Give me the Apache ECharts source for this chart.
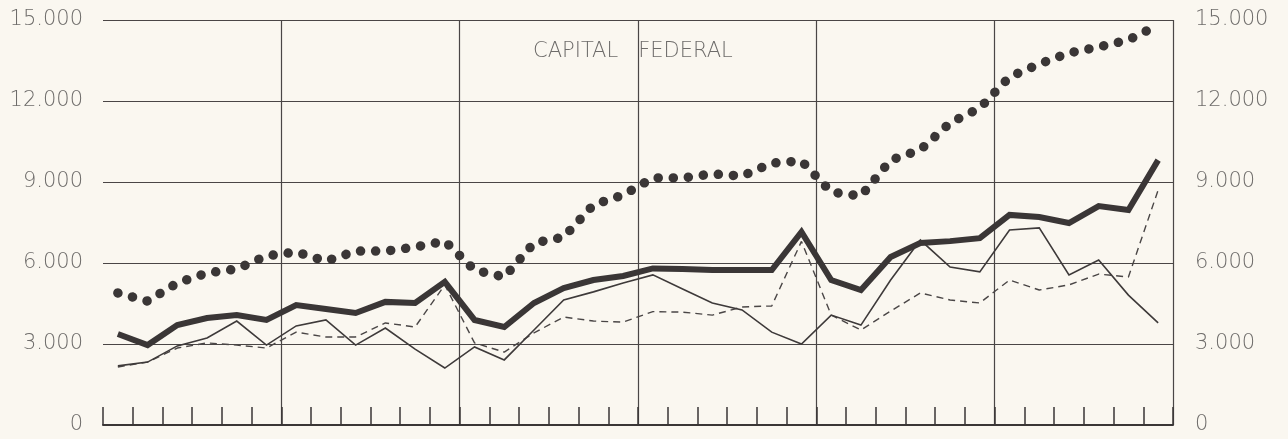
<!DOCTYPE html>
<html>
<head>
<meta charset="utf-8">
<script src="https://cdn.jsdelivr.net/npm/echarts@6/dist/echarts.min.js"></script>
<style>
html,body{margin:0;padding:0;background:#faf7f0;}
#chart{width:1288px;height:439px;}
</style>
</head>
<body>
<div id="chart"></div>
<script>
// 36 periods along the x axis (tick marks between them)
const categories = Array.from({length: 36}, (_, i) => String(i + 1));

const yTicks = [0, 3000, 6000, 9000, 12000, 15000];

// Heavy solid line
const thickLine = [3370, 2960, 3700, 3960, 4070, 3890, 4440, 4300, 4150, 4560, 4520, 5300,
  3890, 3630, 4520, 5070, 5370, 5520, 5800, 5780, 5740, 5740, 5740, 7150,
  5370, 5000, 6220, 6740, 6810, 6920, 7780, 7700, 7480, 8110, 7960, 9810];

// Thin solid line
const thinLine = [2190, 2330, 2930, 3220, 3850, 2960, 3670, 3890, 2960, 3590, 2810, 2110,
  2890, 2410, 3520, 4630, 4930, 5260, 5560, 5040, 4520, 4260, 3440, 3000,
  4070, 3700, 5370, 6850, 5850, 5670, 7220, 7300, 5560, 6110, 4810, 3780];

// Dashed line
const dashedLine = [2150, 2330, 2850, 3040, 2960, 2850, 3440, 3260, 3260, 3780, 3630, 5190,
  3040, 2700, 3410, 4000, 3850, 3810, 4200, 4180, 4070, 4370, 4410, 6800,
  4070, 3520, 4220, 4890, 4630, 4520, 5370, 5000, 5190, 5590, 5480, 8700];

// Dotted line
const dottedLine = [4890, 4590, 5260, 5630, 5780, 6260, 6410, 6070, 6440, 6440, 6590, 6810,
  5740, 5480, 6740, 6960, 8150, 8520, 9150, 9150, 9300, 9220, 9700, 9780,
  8630, 8480, 9810, 10190, 11190, 11740, 12890, 13370, 13780, 14000, 14260, 14810];

const titleText = 'CAPITAL   FEDERAL';

const fmt = v => v === 0 ? '0' : String(v).replace(/\B(?=(\d{3})+(?!\d))/g, '.');
const labelStyle = {color: '#6e6c6a', fontSize: 21, fontFamily: 'DejaVu Sans', fontWeight: 200};
const ink = '#3a3636';

const chart = echarts.init(document.getElementById('chart'), null, {renderer: 'canvas'});
chart.setOption({
  backgroundColor: '#faf7f0',
  animation: false,
  title: {
    text: titleText,
    left: 528, top: 36,
    textStyle: {color: '#6e6c6a', fontSize: 21, fontWeight: 200, fontFamily: 'DejaVu Sans'}
  },
  grid: {left: 103, right: 115, top: 20, bottom: 14, containLabel: false},
  xAxis: {
    type: 'category',
    data: categories,
    boundaryGap: true,
    axisLine: {show: true, lineStyle: {color: ink, width: 2}},
    axisTick: {show: true, inside: true, length: 18, interval: 0,
      lineStyle: {color: ink, width: 1.5}},
    axisLabel: {show: false},
    splitLine: {show: true, interval: (i) => i % 6 === 0 && i !== 0 && i !== 36,
      lineStyle: {color: '#4a4646', width: 1.2}}
  },
  yAxis: [
    {
      type: 'value', min: yTicks[0], max: yTicks[yTicks.length - 1], interval: 3000,
      position: 'left',
      axisLine: {show: false}, axisTick: {show: false},
      axisLabel: Object.assign({margin: 20, formatter: fmt}, labelStyle),
      splitLine: {show: true, lineStyle: {color: '#4a4646', width: 1.2}}
    },
    {
      type: 'value', min: yTicks[0], max: yTicks[yTicks.length - 1], interval: 3000,
      position: 'right',
      axisLine: {show: false}, axisTick: {show: false},
      axisLabel: Object.assign({margin: 22, formatter: fmt}, labelStyle),
      splitLine: {show: false}
    }
  ],
  series: [
    {
      name: 'dashed', type: 'line', data: dashedLine, symbol: 'none',
      lineStyle: {color: '#4a4646', width: 1.4, type: [7, 5]}
    },
    {
      name: 'thin', type: 'line', data: thinLine, symbol: 'none',
      lineStyle: {color: '#3e3a3a', width: 1.6, join: 'miter'}
    },
    {
      name: 'thick', type: 'line', data: thickLine, symbol: 'none',
      lineStyle: {color: ink, width: 6, join: 'miter'}
    },
    {
      name: 'dotted', type: 'line', data: dottedLine, symbol: 'none',
      lineStyle: {color: ink, width: 9.5, type: [0.1, 15], cap: 'round'}
    }
  ]
});
</script>
</body>
</html>
